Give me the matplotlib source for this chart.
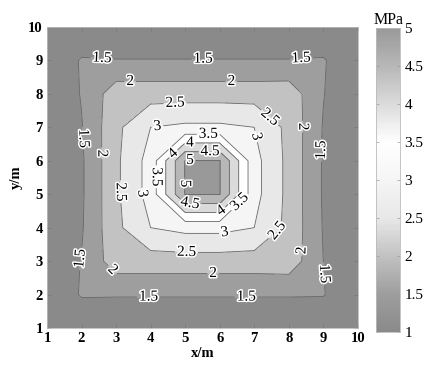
import numpy as np
import matplotlib
matplotlib.use("Agg")
import matplotlib.pyplot as plt
from matplotlib.colors import LinearSegmentedColormap, Normalize
from matplotlib.cm import ScalarMappable
import matplotlib.patheffects as pe

# grid node coordinates (m)
x_m = [1, 2, 3, 4, 5, 6, 7, 8, 9, 10]
y_m = [1, 2, 3, 4, 5, 6, 7, 8, 9, 10]

# stress at the grid nodes (MPa); first row is y = 1, last row is y = 10
stress_rows = [
    [1.0, 1.00, 1.00, 1.00, 1.00, 1.00, 1.00, 1.00, 1.00, 1.0],
    [1.0, 1.55, 1.54, 1.54, 1.54, 1.54, 1.54, 1.54, 1.53, 1.0],
    [1.0, 1.52, 2.27, 2.27, 2.27, 2.27, 2.27, 2.30, 1.50, 1.0],
    [1.0, 1.45, 2.38, 3.00, 3.15, 3.15, 3.00, 2.36, 1.47, 1.0],
    [1.0, 1.43, 2.40, 3.20, 5.02, 5.02, 3.17, 2.36, 1.45, 1.0],
    [1.0, 1.43, 2.40, 3.20, 5.02, 5.02, 3.17, 2.36, 1.45, 1.0],
    [1.0, 1.47, 2.38, 3.00, 3.10, 3.10, 3.00, 2.36, 1.47, 1.0],
    [1.0, 1.53, 2.28, 2.28, 2.28, 2.28, 2.28, 2.30, 1.52, 1.0],
    [1.0, 1.55, 1.52, 1.52, 1.52, 1.52, 1.52, 1.52, 1.55, 1.0],
    [1.0, 1.00, 1.00, 1.00, 1.00, 1.00, 1.00, 1.00, 1.00, 1.0],
]

fill_levels = [1, 1.5, 2, 2.5, 3, 3.5, 4, 4.5, 5, 5.5]
line_levels = [1.5, 2, 2.5, 3, 3.5, 4, 4.5, 5]
cbar_ticks = [1, 1.5, 2, 2.5, 3, 3.5, 4, 4.5, 5]

# gray -> white -> gray colour scale
cmap = LinearSegmentedColormap.from_list(
    "graywhite",
    [(0.00, (0.54,) * 3), (0.125, (0.62,) * 3), (0.25, (0.76,) * 3),
     (0.375, (0.91,) * 3), (0.50, (0.96,) * 3), (0.625, (1.0,) * 3),
     (0.75, (0.86,) * 3), (0.875, (0.72,) * 3), (1.00, (0.60,) * 3)])
norm = Normalize(vmin=1, vmax=5)

plt.rcParams["font.family"] = ["Liberation Serif", "DejaVu Serif"]

X, Y = np.meshgrid(x_m, y_m)
Z = np.array(stress_rows)

fig = plt.figure(figsize=(4.27, 3.69), dpi=100)
ax = fig.add_axes([0.110, 0.111, 0.728, 0.816])

# each band takes the colour of its lower bound
band_colors = [cmap(norm(v)) for v in fill_levels[:-1]]
ax.contourf(X, Y, Z, levels=fill_levels, colors=band_colors)
cs = ax.contour(X, Y, Z, levels=line_levels, colors="#666666",
                linewidths=0.6)

label_spots = [
    (2.59, 9.02), (5.52, 9.02), (8.36, 9.02),
    (3.41, 8.37), (6.34, 8.37),
    (4.71, 7.67), (7.45, 7.30), (8.41, 7.02),
    (2.06, 6.67), (2.62, 6.22), (8.92, 6.32),
    (4.20, 7.02), (7.04, 6.72),
    (5.67, 6.80), (5.14, 6.55), (4.62, 6.25), (5.72, 6.25),
    (5.14, 6.00), (5.00, 5.32),
    (4.18, 5.52), (3.72, 5.02), (3.15, 5.07),
    (5.14, 4.74), (6.05, 4.50), (6.62, 4.72),
    (6.15, 3.84), (7.74, 3.82), (8.40, 3.32),
    (8.94, 2.62), (2.01, 3.07), (2.86, 2.70),
    (5.04, 3.30), (5.81, 2.63), (3.94, 1.95), (6.77, 1.95),
]
texts = ax.clabel(cs, line_levels, inline=True, fmt="%g", fontsize=11,
                  manual=label_spots, inline_spacing=2)
for t in texts:
    t.set_path_effects([pe.withStroke(linewidth=2.2, foreground="white")])
    t.set_color("black")

ax.set_xlim(1, 10)
ax.set_ylim(1, 10)
ax.set_xticks(x_m)
ax.set_yticks(y_m)
ax.tick_params(direction="in", top=True, right=True, length=3, width=0.5,
               color="#777777", labelsize=10.5, pad=3)
for lab in ax.get_xticklabels() + ax.get_yticklabels():
    lab.set_fontweight("bold")
for sp in ax.spines.values():
    sp.set_color("#bbbbbb")
    sp.set_linewidth(0.6)
ax.set_xlabel("x/m", fontsize=10.5, fontweight="bold", labelpad=1)
ax.set_ylabel("y/m", fontsize=10.5, fontweight="bold", labelpad=4)

cax = fig.add_axes([0.881, 0.100, 0.056, 0.824])
sm = ScalarMappable(norm=norm, cmap=cmap)
cb = fig.colorbar(sm, cax=cax, ticks=cbar_ticks)
cb.ax.set_yticklabels([f"{v:g}" for v in cbar_ticks])
cb.ax.tick_params(direction="in", length=2.5, width=0.5, color="#999999",
                  labelsize=11, pad=3, left=True)
cb.outline.set_edgecolor("#bbbbbb")
cb.outline.set_linewidth(0.6)
cb.ax.set_title("MPa", fontsize=11.5, pad=3)

fig.savefig("out.png", dpi=100)
